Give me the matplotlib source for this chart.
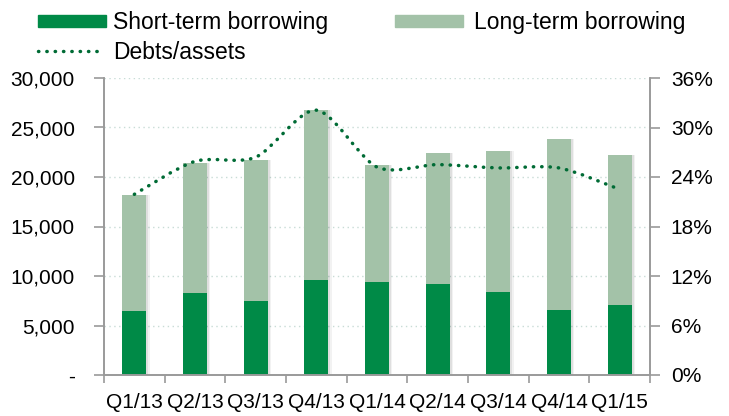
import numpy as np
import matplotlib
matplotlib.use("Agg")
import matplotlib.pyplot as plt
from matplotlib.path import Path
from matplotlib.patches import PathPatch, Rectangle
from matplotlib.lines import Line2D
from matplotlib.ticker import FuncFormatter, FixedLocator

quarters = ["Q1/13", "Q2/13", "Q3/13", "Q4/13", "Q1/14", "Q2/14", "Q3/14", "Q4/14", "Q1/15"]
short_term = [6500, 8300, 7500, 9600, 9400, 9200, 8400, 6600, 7100]
total_borrowing = [18200, 21400, 21700, 26800, 21200, 22400, 22600, 23800, 22200]
debts_assets = [21.9, 25.9, 26.4, 32.1, 25.2, 25.5, 25.1, 25.1, 22.5]
series_names = ["Short-term borrowing", "Long-term borrowing", "Debts/assets"]

long_term = [t - s for t, s in zip(total_borrowing, short_term)]

dark = "#008A47"
light = "#A3C2A8"
line_c = "#006B35"
axis_c = "#9a9a9a"
dots = (0, (0.1, 2.3))

plt.rcParams["font.family"] = ["Liberation Sans", "DejaVu Sans"]

W, H = 729, 416
fig = plt.figure(figsize=(W / 100, H / 100), dpi=100)
ax = fig.add_axes([104 / W, 1 - 375 / H, 546 / W, 297 / H])
ax2 = ax.twinx()

x = np.arange(len(quarters))
w = 0.4

# soft shadow behind bars
for dx, a in [(0.03, 0.08), (0.05, 0.05)]:
    ax.bar(x + dx, total_borrowing, w, color="black", alpha=a, zorder=1, linewidth=0)
ax.bar(x, short_term, w, color=dark, zorder=2, linewidth=0)
ax.bar(x, long_term, w, bottom=short_term, color=light, zorder=2, linewidth=0)

ax.set_xlim(-0.5, len(quarters) - 0.5)
ax.set_ylim(0, 30000)
ax.set_yticks(np.arange(0, 30001, 5000))
ax.yaxis.set_major_formatter(FuncFormatter(lambda v, p: "-" if v == 0 else f"{int(v):,}"))
ax.yaxis.grid(True, linestyle=(0, (1, 2.5)), color="#c8dcd6", linewidth=1)
ax.set_axisbelow(True)

ax.set_xticks(x)
ax.set_xticklabels(quarters, fontsize=15)
ax.tick_params(axis="x", length=0, pad=13)
ax.xaxis.set_minor_locator(FixedLocator(np.arange(-0.5, len(quarters), 1)))
ax.tick_params(axis="x", which="minor", length=6, color=axis_c, width=1.2)
ax.tick_params(axis="y", length=7, color=axis_c, width=1.2, labelsize=15, pad=14)

ax2.set_ylim(0, 36)
ax2.set_yticks(np.arange(0, 37, 6))
ax2.yaxis.set_major_formatter(FuncFormatter(lambda v, p: f"{int(v)}%"))
ax2.tick_params(axis="y", length=7, color=axis_c, width=1.2, labelsize=15, pad=8)

for a in (ax, ax2):
    a.spines["top"].set_visible(False)
    for s in ("left", "right", "bottom"):
        a.spines[s].set_color(axis_c)
        a.spines[s].set_linewidth(1.2)

# smoothed dotted line (Catmull-Rom drawn as cubic Beziers)
px = x.astype(float)
py = np.array(debts_assets, dtype=float)
verts = [(px[0], py[0])]
codes = [Path.MOVETO]
for i in range(len(px) - 1):
    p0 = (px[max(i - 1, 0)], py[max(i - 1, 0)])
    p1 = (px[i], py[i])
    p2 = (px[i + 1], py[i + 1])
    p3 = (px[min(i + 2, len(px) - 1)], py[min(i + 2, len(px) - 1)])
    c1 = (p1[0] + (p2[0] - p0[0]) / 7, p1[1] + (p2[1] - p0[1]) / 7)
    c2 = (p2[0] - (p3[0] - p1[0]) / 7, p2[1] - (p3[1] - p1[1]) / 7)
    verts += [c1, c2, p2]
    codes += [Path.CURVE4] * 3
ax2.add_patch(PathPatch(Path(verts, codes), fill=False, edgecolor=line_c, linewidth=2.5,
                        linestyle=dots, capstyle="round", zorder=5))

# legend, placed in figure pixels
def fx(px_):
    return px_ / W

def fy(py_):
    return 1 - py_ / H

fig.add_artist(Rectangle((fx(38), fy(27)), 68 / W, 12 / H, color=dark,
                         transform=fig.transFigure))
fig.text(fx(113), fy(20.5), series_names[0], fontsize=16.5, va="center_baseline")
fig.add_artist(Rectangle((fx(395), fy(27)), 68 / W, 12 / H, color=light,
                         transform=fig.transFigure))
fig.text(fx(474), fy(20.5), series_names[1], fontsize=16.5, va="center_baseline")
fig.add_artist(Line2D([fx(38), fx(102)], [fy(51), fy(51)], color=line_c, linewidth=2.5,
                      linestyle=dots, dash_capstyle="round", transform=fig.transFigure))
fig.text(fx(113), fy(50), series_names[2], fontsize=16.5, va="center_baseline")

fig.savefig("out.png", dpi=100)
